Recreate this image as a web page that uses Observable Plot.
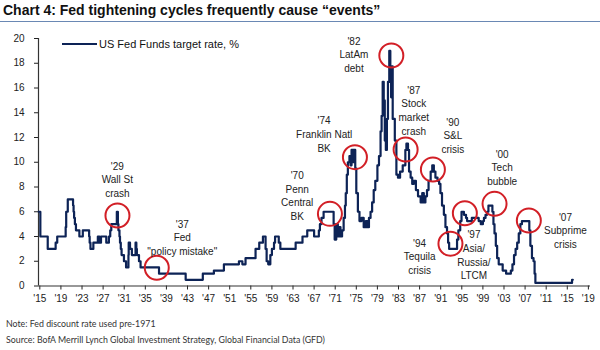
<!DOCTYPE html>
<html>
<head>
<meta charset="utf-8">
<script src="https://cdn.jsdelivr.net/npm/d3@7"></script>
<script src="https://cdn.jsdelivr.net/npm/@observablehq/plot@0.6"></script>
<style>
  body { margin: 0; background: #fff; }
  #wrap { position: relative; width: 600px; height: 350px; overflow: hidden; background: #fff; }
  #chart { position: absolute; left: 0; top: 0; }
  .ov { position: absolute; z-index: 2; white-space: nowrap; }
  #title { left: 3px; top: 2px; font: bold 14px/16px "Liberation Sans", Arial, sans-serif; color: #111; }
  #rule { left: 0; top: 20.5px; width: 600px; height: 0; border-top: 1.5px solid #6a88b4; }
  #legend { left: 62px; top: 37px; font: 11px/14px "Liberation Sans", Arial, sans-serif; color: #111; }
  #legend span.sw { display: inline-block; width: 35px; height: 0; border-top: 2.5px solid #0d2356; vertical-align: middle; margin-right: 2px; position: relative; top: -1px; }
  .foot { left: 6px; font: 8.8px/12px Lato, "Open Sans", sans-serif; color: #333; }
</style>
</head>
<body>
<div id="wrap">
  <div id="chart"></div>
  <div class="ov" id="title">Chart 4: Fed tightening cycles frequently cause “events”</div>
  <div class="ov" id="rule"></div>
  <div class="ov" id="legend"><span class="sw"></span>US Fed Funds target rate, %</div>
  <div class="ov foot" style="top:318px">Note: Fed discount rate used pre-1971</div>
  <div class="ov foot" style="top:334px">Source: BofA Merrill Lynch Global Investment Strategy, Global Financial Data (GFD)</div>
</div>
<script>
// Rate change points (year, new level in %)
const years = [
  1914.8, 1915.1, 1916.5, 1918.0, 1918.3, 1919.9, 1920.0, 1920.3, 1921.3, 1921.4,
  1921.5, 1921.65, 1921.85, 1922.5, 1923.15, 1924.35, 1924.45, 1924.6, 1925.15, 1926.0,
  1926.3, 1926.6, 1927.6, 1928.1, 1928.35, 1928.55, 1929.6, 1929.8, 1929.9, 1930.1,
  1930.2, 1930.35, 1930.5, 1930.95, 1931.35, 1931.8, 1931.85, 1932.1, 1932.45, 1933.15,
  1933.3, 1933.4, 1933.8, 1934.1, 1937.6, 1942.65, 1945.9, 1948.0, 1949.9, 1952.75,
  1953.4, 1954.0, 1955.9, 1956.6, 1957.3, 1957.8, 1958.0, 1958.3, 1958.7, 1959.0,
  1959.4, 1959.6, 1960.3, 1960.6, 1963.5, 1964.8, 1965.7, 1967.0, 1967.9, 1968.1,
  1968.4, 1968.8, 1970.7, 1970.9, 1971.2, 1971.5, 1971.75, 1972.0, 1972.3, 1972.6,
  1972.85, 1973.0, 1973.2, 1973.4, 1973.7, 1973.9, 1974.1, 1974.4, 1974.55, 1974.8,
  1975.0, 1975.3, 1975.6, 1976.0, 1976.4, 1976.8, 1977.1, 1977.4, 1977.7, 1978.0,
  1978.3, 1978.6, 1979.0, 1979.3, 1979.6, 1979.8, 1980.0, 1980.2, 1980.4, 1980.6,
  1980.8, 1981.0, 1981.25, 1981.45, 1981.6, 1981.75, 1981.9, 1982.3, 1982.6, 1982.9,
  1983.3, 1983.8, 1984.3, 1984.5, 1984.8, 1985.0, 1985.3, 1985.6, 1985.9, 1986.3,
  1986.7, 1987.2, 1987.5, 1987.8, 1988.1, 1988.4, 1988.7, 1989.1, 1989.4, 1989.7,
  1990.0, 1990.4, 1990.7, 1990.95, 1991.25, 1991.6, 1991.9, 1992.2, 1992.4, 1992.6,
  1994.1, 1994.35, 1994.7, 1994.95, 1995.4, 1995.8, 1996.0, 1996.9, 1998.2, 1998.6,
  1999.0, 1999.2, 1999.5, 1999.8, 2000.05, 2000.8, 2001.0, 2001.2, 2001.45, 2001.7,
  2002.0, 2002.75, 2003.4, 2004.3, 2004.6, 2004.9, 2005.2, 2005.5, 2005.8, 2006.1,
  2006.4, 2007.8, 2008.0, 2008.3, 2008.6, 2008.8, 2008.95, 2015.9, 2016.05
];
const rates = [
  6, 4, 3, 3.5, 4, 4.75, 6, 7, 6.5, 6,
  5.5, 5, 4.5, 4, 4.5, 4, 3.5, 3, 3.5, 4,
  3.5, 4, 3.5, 4, 4.5, 5, 6, 5, 4.5, 4,
  3.5, 3, 2.5, 2, 1.5, 2.5, 3.5, 3, 2.5, 3.5,
  3, 2.5, 2, 1.5, 1, 0.5, 1, 1.25, 1.75, 2,
  1.75, 2.25, 3, 3.5, 4, 3, 2, 1.75, 2.5, 3,
  3.5, 4, 3.5, 3, 3.5, 4, 4.5, 4, 4.5, 5,
  5.5, 6, 5, 3.75, 5, 4, 4.75, 4, 4.5, 5.5,
  6.5, 7.5, 9, 10, 10.5, 9.75, 11, 10, 11, 9.5,
  7.5, 6, 5.25, 5.5, 4.75, 5.25, 4.75, 5.5, 6, 6.75,
  7.75, 8.5, 9.75, 10.5, 12.5, 13.75, 16.5, 15, 11.75, 11,
  13.5, 16.5, 19, 17.5, 15.25, 17.75, 13.5, 11.75, 9, 8.75,
  9.25, 9.75, 11, 11.5, 11, 9.25, 8.75, 8.25, 8.5, 7.75,
  7.25, 6.75, 7.5, 6.75, 7.25, 7.75, 8.5, 9.25, 9.75, 9.25,
  8.75, 8.5, 8.25, 7.5, 6.5, 5.75, 4.75, 4.25, 3.5, 3,
  3.75, 4.5, 5.25, 6, 5.75, 5.5, 5.25, 5.5, 5.25, 5,
  5.25, 5.5, 5.75, 6, 6.5, 6, 5, 4.25, 3.25, 2.25,
  1.75, 1.25, 1, 1.25, 1.75, 2.5, 3, 3.5, 4.25, 5,
  5.25, 4.5, 3.25, 2.25, 2, 1, 0.25, 0.5, 0.5
];

// Event annotations
const eventLabels = [
  "'29\nWall St\ncrash", "'37\nFed\n\"policy mistake\"", "'70\nPenn\nCentral\nBK",
  "'74\nFranklin Natl\nBK", "'82\nLatAm\ndebt", "'87\nStock\nmarket\ncrash",
  "'90\nS&L\ncrisis", "'94\nTequila\ncrisis", "'97\nAsia/\nRussia/\nLTCM",
  "'00\nTech\nbubble", "'07\nSubprime\ncrisis"
];
const labelYear = [1929.7, 1942.0, 1963.8, 1968.9, 1974.55, 1985.9, 1993.3, 1987.0, 1997.3, 2002.65, 2014.65];
const labelRate = [8.65, 3.97, 7.34, 12.32, 18.76, 14.25, 12.2, 2.42, 2.55, 9.62, 4.53];
const circleYear = [1929.72, 1937.17, 1970.0, 1974.74, 1981.64, 1984.35, 1989.52, 1992.85, 1995.58, 2001.21, 2007.71];
const circleRate = [5.7, 1.47, 5.83, 10.41, 18.63, 11.03, 9.41, 3.41, 5.88, 6.64, 5.29];

// Axis ticks
const xTickYears = [1915, 1919, 1923, 1927, 1931, 1935, 1939, 1943, 1947, 1951, 1955, 1959, 1963,
  1967, 1971, 1975, 1979, 1983, 1987, 1991, 1995, 1999, 2003, 2007, 2011, 2015, 2019];
const yTicks = [0, 2, 4, 6, 8, 10, 12, 14, 16, 18, 20];
const xDomain = [1914.75, 2019.4];

const series = years.map((y, i) => ({year: y, rate: rates[i]}));
const labels = eventLabels.map((t, i) => ({text: t, year: labelYear[i], rate: labelRate[i]}));
const circles = circleYear.map((y, i) => ({year: y, rate: circleRate[i]}));

const chart = Plot.plot({
  width: 600,
  height: 350,
  marginLeft: 38,
  marginRight: 10,
  marginTop: 38,
  marginBottom: 64.5,
  style: {fontFamily: "'Liberation Sans', Arial, sans-serif", fontSize: "10px", color: "#222", background: "transparent"},
  x: {domain: xDomain, ticks: xTickYears, tickFormat: d => "'" + String(d % 100).padStart(2, "0"), tickSize: 4, tickPadding: 5, label: null},
  y: {domain: [0, 20], ticks: yTicks, tickSize: 4, tickPadding: 10, label: null},
  marks: [
    Plot.ruleY([0], {stroke: "#333", strokeWidth: 1.2}),
    Plot.ruleX([xDomain[0]], {stroke: "#333", strokeWidth: 1.2}),
    Plot.line(series, {x: "year", y: "rate", curve: "step-after", stroke: "#0d2356", strokeWidth: 2.2}),
    Plot.dot(circles, {x: "year", y: "rate", r: 12, stroke: "#d21f26", strokeWidth: 2, fill: "none"}),
    Plot.text(labels, {x: "year", y: "rate", text: "text", fontSize: 10, lineHeight: 1.37, fill: "#222"})
  ]
});
document.getElementById("chart").appendChild(chart);
</script>
</body>
</html>
